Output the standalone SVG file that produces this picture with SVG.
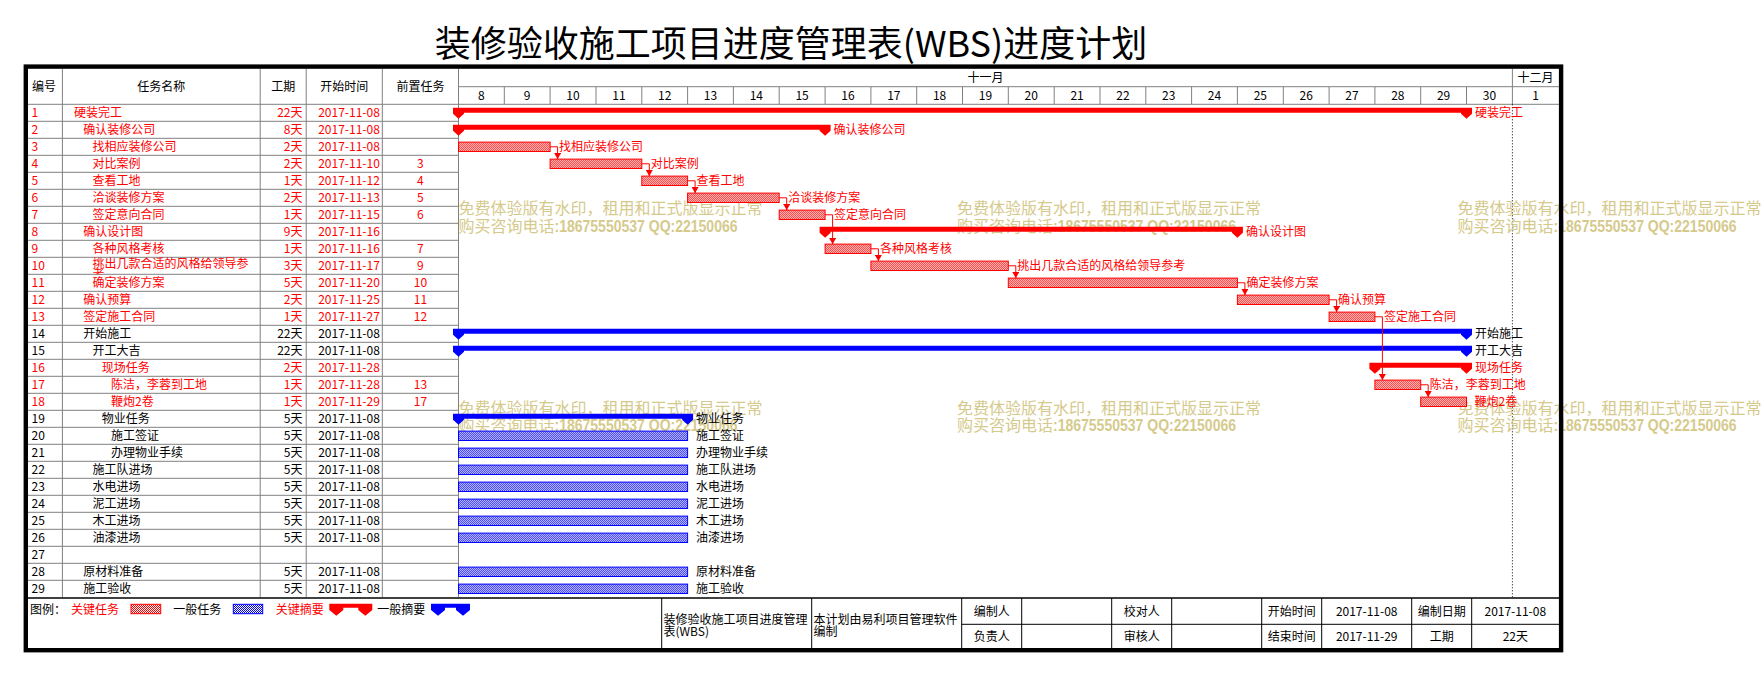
<svg xmlns="http://www.w3.org/2000/svg" width="1761" height="674" viewBox="0 0 1761 674">
<style>
text{font-family:"Noto Sans CJK SC","Noto Sans",sans-serif;font-size:12px}
.r{fill:#f00}.k{fill:#000}
.m{text-anchor:middle}.e{text-anchor:end}
.g{stroke:#808080;stroke-width:1;fill:none}
.wm{fill:#D5CA8C;font-size:16px}
.wd{fill:#D5CA8C;font-family:"Liberation Sans",sans-serif;font-size:16px;font-weight:bold}
.tr{fill:url(#hr);stroke:#f00;stroke-width:1}
.tb{fill:url(#hb);stroke:#00f;stroke-width:1}
.sr{fill:#f00}.sb{fill:#00f}
.cn{stroke:#f00;stroke-width:1;fill:none;marker-end:url(#ar)}
.bl{stroke:#000;stroke-width:1;fill:none}
</style>
<defs>
<pattern id="hr" width="2" height="2" patternUnits="userSpaceOnUse"><rect width="2" height="2" fill="#fff"/><rect width="1" height="1" fill="#f00"/><rect x="1" y="1" width="1" height="1" fill="#f00"/></pattern>
<pattern id="hb" width="2" height="2" patternUnits="userSpaceOnUse"><rect width="2" height="2" fill="#fff"/><rect width="1" height="1" fill="#00f"/><rect x="1" y="1" width="1" height="1" fill="#00f"/></pattern>
<marker id="ar" viewBox="0 0 6 7" refX="6" refY="3.5" markerWidth="6" markerHeight="7" markerUnits="userSpaceOnUse" orient="auto"><path d="M0,0 L6,3.5 L0,7 Z" fill="#f00"/></marker>
<clipPath id="c10"><rect x="62.4" y="0" width="197.8" height="17"/></clipPath>
</defs>
<rect width="1761" height="674" fill="#fff"/>

<text x="791" y="57" class="m" style="font-size:36px">装修验收施工项目进度管理表(WBS)进度计划</text>

<g id="grid">
<path class="g" d="M62.4,68.7V597.3M260.2,68.7V597.3M306.2,68.7V597.3M382.3,68.7V597.3M458.5,68.7V597.3"/>
<path class="g" d="M25.7,104.3H1559M458.5,86.7H1559M1512.4,68.7V104.3"/>
<path class="g" d="M504.3,86.7V104.3M550.1,86.7V104.3M596,86.7V104.3M641.8,86.7V104.3M687.6,86.7V104.3M733.4,86.7V104.3M779.2,86.7V104.3M825.1,86.7V104.3M870.9,86.7V104.3M916.7,86.7V104.3M962.5,86.7V104.3M1008.3,86.7V104.3M1054.2,86.7V104.3M1100,86.7V104.3M1145.8,86.7V104.3M1191.6,86.7V104.3M1237.4,86.7V104.3M1283.3,86.7V104.3M1329.1,86.7V104.3M1374.9,86.7V104.3M1420.7,86.7V104.3M1466.5,86.7V104.3"/>
<path class="g" d="M25.7,121.3H458.5M25.7,138.3H458.5M25.7,155.3H458.5M25.7,172.3H458.5M25.7,189.3H458.5M25.7,206.3H458.5M25.7,223.3H458.5M25.7,240.3H458.5M25.7,257.3H458.5M25.7,274.3H458.5M25.7,291.3H458.5M25.7,308.3H458.5M25.7,325.3H458.5M25.7,342.3H458.5M25.7,359.3H458.5M25.7,376.3H458.5M25.7,393.3H458.5M25.7,410.3H458.5M25.7,427.3H458.5M25.7,444.3H458.5M25.7,461.3H458.5M25.7,478.3H458.5M25.7,495.3H458.5M25.7,512.3H458.5M25.7,529.3H458.5M25.7,546.3H458.5M25.7,563.3H458.5M25.7,580.3H458.5"/>
<path d="M1512.4,104.3V597.3" stroke="#000" stroke-width="1" stroke-dasharray="1 2"/>
<path d="M25.7,598H1561" stroke="#000" stroke-width="1.5"/>
</g>

<g id="header">
<text x="44" y="91" class="m">编号</text>
<text x="161.3" y="91" class="m">任务名称</text>
<text x="283.2" y="91" class="m">工期</text>
<text x="344.3" y="91" class="m">开始时间</text>
<text x="420.4" y="91" class="m">前置任务</text>
<text x="985.4" y="82" class="m">十一月</text>
<text x="1535.5" y="82" class="m">十二月</text>
<text x="481.4" y="99.5" class="m">8</text><text x="527.2" y="99.5" class="m">9</text><text x="573" y="99.5" class="m">10</text><text x="618.9" y="99.5" class="m">11</text><text x="664.7" y="99.5" class="m">12</text><text x="710.5" y="99.5" class="m">13</text><text x="756.3" y="99.5" class="m">14</text><text x="802.1" y="99.5" class="m">15</text><text x="848" y="99.5" class="m">16</text><text x="893.8" y="99.5" class="m">17</text><text x="939.6" y="99.5" class="m">18</text><text x="985.4" y="99.5" class="m">19</text><text x="1031.2" y="99.5" class="m">20</text><text x="1077.1" y="99.5" class="m">21</text><text x="1122.9" y="99.5" class="m">22</text><text x="1168.7" y="99.5" class="m">23</text><text x="1214.5" y="99.5" class="m">24</text><text x="1260.3" y="99.5" class="m">25</text><text x="1306.2" y="99.5" class="m">26</text><text x="1352" y="99.5" class="m">27</text><text x="1397.8" y="99.5" class="m">28</text><text x="1443.6" y="99.5" class="m">29</text><text x="1489.4" y="99.5" class="m">30</text><text x="1535.5" y="99.5" class="m">1</text>
</g>

<g id="watermarks">
<text x="458.5" y="214.3" class="wm">免费体验版有水印，租用和正式版显示正常</text>
<text x="458.5" y="231.7" class="wm">购买咨询电话</text><text x="554.5" y="231.7" class="wd" textLength="183" lengthAdjust="spacingAndGlyphs">:18675550537 QQ:22150066</text>
<text x="957" y="214.3" class="wm">免费体验版有水印，租用和正式版显示正常</text>
<text x="957" y="231.7" class="wm">购买咨询电话</text><text x="1053" y="231.7" class="wd" textLength="183" lengthAdjust="spacingAndGlyphs">:18675550537 QQ:22150066</text>
<text x="1457.6" y="214.3" class="wm">免费体验版有水印，租用和正式版显示正常</text>
<text x="1457.6" y="231.7" class="wm">购买咨询电话</text><text x="1553.6" y="231.7" class="wd" textLength="183" lengthAdjust="spacingAndGlyphs">:18675550537 QQ:22150066</text>
<text x="458.5" y="413.5" class="wm">免费体验版有水印，租用和正式版显示正常</text>
<text x="458.5" y="431.3" class="wm">购买咨询电话</text><text x="554.5" y="431.3" class="wd" textLength="183" lengthAdjust="spacingAndGlyphs">:18675550537 QQ:22150066</text>
<text x="957" y="413.5" class="wm">免费体验版有水印，租用和正式版显示正常</text>
<text x="957" y="431.3" class="wm">购买咨询电话</text><text x="1053" y="431.3" class="wd" textLength="183" lengthAdjust="spacingAndGlyphs">:18675550537 QQ:22150066</text>
<text x="1457.6" y="413.5" class="wm">免费体验版有水印，租用和正式版显示正常</text>
<text x="1457.6" y="431.3" class="wm">购买咨询电话</text><text x="1553.6" y="431.3" class="wd" textLength="183" lengthAdjust="spacingAndGlyphs">:18675550537 QQ:22150066</text>
</g>

<g id="task-1" transform="translate(0,104.3)" class="r">
<text x="31.5" y="12.8">1</text><text x="74" y="12.8">硬装完工</text><text x="302.5" y="12.8" class="e">22天</text><text x="349" y="12.8" class="m">2017-11-08</text>
<path class="sr" d="M453,3.5H1472V9.5L1466.5,14.5L1461,9.5V8.5H464V9.5L458.5,14.5L453,9.5Z"/>
<text x="1475" y="12.8">硬装完工</text>
</g>
<g id="task-2" transform="translate(0,121.3)" class="r">
<text x="31.5" y="12.8">2</text><text x="83.3" y="12.8">确认装修公司</text><text x="302.5" y="12.8" class="e">8天</text><text x="349" y="12.8" class="m">2017-11-08</text>
<path class="sr" d="M453,3.5H830.6V9.5L825.1,14.5L819.6,9.5V8.5H464V9.5L458.5,14.5L453,9.5Z"/>
<text x="833.6" y="12.8">确认装修公司</text>
</g>
<g id="task-3" transform="translate(0,138.3)" class="r">
<text x="31.5" y="12.8">3</text><text x="92.5" y="12.8">找相应装修公司</text><text x="302.5" y="12.8" class="e">2天</text><text x="349" y="12.8" class="m">2017-11-08</text>
<rect class="tr" x="458.5" y="3.8" width="91.6" height="9.4"/>
<text x="559.1" y="12.8">找相应装修公司</text>
</g>
<g id="task-4" transform="translate(0,155.3)" class="r">
<text x="31.5" y="12.8">4</text><text x="92.5" y="12.8">对比案例</text><text x="302.5" y="12.8" class="e">2天</text><text x="349" y="12.8" class="m">2017-11-10</text><text x="420.4" y="12.8" class="m">3</text>
<rect class="tr" x="550.1" y="3.8" width="91.7" height="9.4"/>
<text x="650.8" y="12.8">对比案例</text>
</g>
<g id="task-5" transform="translate(0,172.3)" class="r">
<text x="31.5" y="12.8">5</text><text x="92.5" y="12.8">查看工地</text><text x="302.5" y="12.8" class="e">1天</text><text x="349" y="12.8" class="m">2017-11-12</text><text x="420.4" y="12.8" class="m">4</text>
<rect class="tr" x="641.8" y="3.8" width="45.8" height="9.4"/>
<text x="696.6" y="12.8">查看工地</text>
</g>
<g id="task-6" transform="translate(0,189.3)" class="r">
<text x="31.5" y="12.8">6</text><text x="92.5" y="12.8">洽谈装修方案</text><text x="302.5" y="12.8" class="e">2天</text><text x="349" y="12.8" class="m">2017-11-13</text><text x="420.4" y="12.8" class="m">5</text>
<rect class="tr" x="687.6" y="3.8" width="91.6" height="9.4"/>
<text x="788.2" y="12.8">洽谈装修方案</text>
</g>
<g id="task-7" transform="translate(0,206.3)" class="r">
<text x="31.5" y="12.8">7</text><text x="92.5" y="12.8">签定意向合同</text><text x="302.5" y="12.8" class="e">1天</text><text x="349" y="12.8" class="m">2017-11-15</text><text x="420.4" y="12.8" class="m">6</text>
<rect class="tr" x="779.2" y="3.8" width="45.9" height="9.4"/>
<text x="834.1" y="12.8">签定意向合同</text>
</g>
<g id="task-8" transform="translate(0,223.3)" class="r">
<text x="31.5" y="12.8">8</text><text x="83.3" y="12.8">确认设计图</text><text x="302.5" y="12.8" class="e">9天</text><text x="349" y="12.8" class="m">2017-11-16</text>
<path class="sr" d="M819.6,3.5H1242.9V9.5L1237.4,14.5L1231.9,9.5V8.5H830.6V9.5L825.1,14.5L819.6,9.5Z"/>
<text x="1245.9" y="12.8">确认设计图</text>
</g>
<g id="task-9" transform="translate(0,240.3)" class="r">
<text x="31.5" y="12.8">9</text><text x="92.5" y="12.8">各种风格考核</text><text x="302.5" y="12.8" class="e">1天</text><text x="349" y="12.8" class="m">2017-11-16</text><text x="420.4" y="12.8" class="m">7</text>
<rect class="tr" x="825.1" y="3.8" width="45.8" height="9.4"/>
<text x="879.9" y="12.8">各种风格考核</text>
</g>
<g id="task-10" transform="translate(0,257.3)" class="r">
<text x="31.5" y="12.8">10</text>
<g clip-path="url(#c10)"><text x="92.5" y="10.2">挑出几款合适的风格给领导参</text><text x="92.5" y="21.4">考</text></g>
<text x="302.5" y="12.8" class="e">3天</text><text x="349" y="12.8" class="m">2017-11-17</text><text x="420.4" y="12.8" class="m">9</text>
<rect class="tr" x="870.9" y="3.8" width="137.4" height="9.4"/>
<text x="1017.3" y="12.8">挑出几款合适的风格给领导参考</text>
</g>
<g id="task-11" transform="translate(0,274.3)" class="r">
<text x="31.5" y="12.8">11</text><text x="92.5" y="12.8">确定装修方案</text><text x="302.5" y="12.8" class="e">5天</text><text x="349" y="12.8" class="m">2017-11-20</text><text x="420.4" y="12.8" class="m">10</text>
<rect class="tr" x="1008.3" y="3.8" width="229.1" height="9.4"/>
<text x="1246.4" y="12.8">确定装修方案</text>
</g>
<g id="task-12" transform="translate(0,291.3)" class="r">
<text x="31.5" y="12.8">12</text><text x="83.3" y="12.8">确认预算</text><text x="302.5" y="12.8" class="e">2天</text><text x="349" y="12.8" class="m">2017-11-25</text><text x="420.4" y="12.8" class="m">11</text>
<rect class="tr" x="1237.4" y="3.8" width="91.7" height="9.4"/>
<text x="1338.1" y="12.8">确认预算</text>
</g>
<g id="task-13" transform="translate(0,308.3)" class="r">
<text x="31.5" y="12.8">13</text><text x="83.3" y="12.8">签定施工合同</text><text x="302.5" y="12.8" class="e">1天</text><text x="349" y="12.8" class="m">2017-11-27</text><text x="420.4" y="12.8" class="m">12</text>
<rect class="tr" x="1329.1" y="3.8" width="45.8" height="9.4"/>
<text x="1383.9" y="12.8">签定施工合同</text>
</g>
<g id="task-14" transform="translate(0,325.3)" class="k">
<text x="31.5" y="12.8">14</text><text x="83.3" y="12.8">开始施工</text><text x="302.5" y="12.8" class="e">22天</text><text x="349" y="12.8" class="m">2017-11-08</text>
<path class="sb" d="M453,3.5H1472V9.5L1466.5,14.5L1461,9.5V8.5H464V9.5L458.5,14.5L453,9.5Z"/>
<text x="1475" y="12.8">开始施工</text>
</g>
<g id="task-15" transform="translate(0,342.3)" class="k">
<text x="31.5" y="12.8">15</text><text x="92.5" y="12.8">开工大吉</text><text x="302.5" y="12.8" class="e">22天</text><text x="349" y="12.8" class="m">2017-11-08</text>
<path class="sb" d="M453,3.5H1472V9.5L1466.5,14.5L1461,9.5V8.5H464V9.5L458.5,14.5L453,9.5Z"/>
<text x="1475" y="12.8">开工大吉</text>
</g>
<g id="task-16" transform="translate(0,359.3)" class="r">
<text x="31.5" y="12.8">16</text><text x="101.8" y="12.8">现场任务</text><text x="302.5" y="12.8" class="e">2天</text><text x="349" y="12.8" class="m">2017-11-28</text>
<path class="sr" d="M1369.4,3.5H1472V9.5L1466.5,14.5L1461,9.5V8.5H1380.4V9.5L1374.9,14.5L1369.4,9.5Z"/>
<text x="1475" y="12.8">现场任务</text>
</g>
<g id="task-17" transform="translate(0,376.3)" class="r">
<text x="31.5" y="12.8">17</text><text x="111" y="12.8">陈洁，李蓉到工地</text><text x="302.5" y="12.8" class="e">1天</text><text x="349" y="12.8" class="m">2017-11-28</text><text x="420.4" y="12.8" class="m">13</text>
<rect class="tr" x="1374.9" y="3.8" width="45.8" height="9.4"/>
<text x="1429.7" y="12.8">陈洁，李蓉到工地</text>
</g>
<g id="task-18" transform="translate(0,393.3)" class="r">
<text x="31.5" y="12.8">18</text><text x="111" y="12.8">鞭炮2卷</text><text x="302.5" y="12.8" class="e">1天</text><text x="349" y="12.8" class="m">2017-11-29</text><text x="420.4" y="12.8" class="m">17</text>
<rect class="tr" x="1420.7" y="3.8" width="45.8" height="9.4"/>
<text x="1474.5" y="12.8">鞭炮2卷</text>
</g>
<g id="task-19" transform="translate(0,410.3)" class="k">
<text x="31.5" y="12.8">19</text><text x="101.8" y="12.8">物业任务</text><text x="302.5" y="12.8" class="e">5天</text><text x="349" y="12.8" class="m">2017-11-08</text>
<path class="sb" d="M453,3.5H693.1V9.5L687.6,14.5L682.1,9.5V8.5H464V9.5L458.5,14.5L453,9.5Z"/>
<text x="696.1" y="12.8">物业任务</text>
</g>
<g id="task-20" transform="translate(0,427.3)" class="k">
<text x="31.5" y="12.8">20</text><text x="111" y="12.8">施工签证</text><text x="302.5" y="12.8" class="e">5天</text><text x="349" y="12.8" class="m">2017-11-08</text>
<rect class="tb" x="458.5" y="3.8" width="229.1" height="9.4"/>
<text x="696.1" y="12.8">施工签证</text>
</g>
<g id="task-21" transform="translate(0,444.3)" class="k">
<text x="31.5" y="12.8">21</text><text x="111" y="12.8">办理物业手续</text><text x="302.5" y="12.8" class="e">5天</text><text x="349" y="12.8" class="m">2017-11-08</text>
<rect class="tb" x="458.5" y="3.8" width="229.1" height="9.4"/>
<text x="696.1" y="12.8">办理物业手续</text>
</g>
<g id="task-22" transform="translate(0,461.3)" class="k">
<text x="31.5" y="12.8">22</text><text x="92.5" y="12.8">施工队进场</text><text x="302.5" y="12.8" class="e">5天</text><text x="349" y="12.8" class="m">2017-11-08</text>
<rect class="tb" x="458.5" y="3.8" width="229.1" height="9.4"/>
<text x="696.1" y="12.8">施工队进场</text>
</g>
<g id="task-23" transform="translate(0,478.3)" class="k">
<text x="31.5" y="12.8">23</text><text x="92.5" y="12.8">水电进场</text><text x="302.5" y="12.8" class="e">5天</text><text x="349" y="12.8" class="m">2017-11-08</text>
<rect class="tb" x="458.5" y="3.8" width="229.1" height="9.4"/>
<text x="696.1" y="12.8">水电进场</text>
</g>
<g id="task-24" transform="translate(0,495.3)" class="k">
<text x="31.5" y="12.8">24</text><text x="92.5" y="12.8">泥工进场</text><text x="302.5" y="12.8" class="e">5天</text><text x="349" y="12.8" class="m">2017-11-08</text>
<rect class="tb" x="458.5" y="3.8" width="229.1" height="9.4"/>
<text x="696.1" y="12.8">泥工进场</text>
</g>
<g id="task-25" transform="translate(0,512.3)" class="k">
<text x="31.5" y="12.8">25</text><text x="92.5" y="12.8">木工进场</text><text x="302.5" y="12.8" class="e">5天</text><text x="349" y="12.8" class="m">2017-11-08</text>
<rect class="tb" x="458.5" y="3.8" width="229.1" height="9.4"/>
<text x="696.1" y="12.8">木工进场</text>
</g>
<g id="task-26" transform="translate(0,529.3)" class="k">
<text x="31.5" y="12.8">26</text><text x="92.5" y="12.8">油漆进场</text><text x="302.5" y="12.8" class="e">5天</text><text x="349" y="12.8" class="m">2017-11-08</text>
<rect class="tb" x="458.5" y="3.8" width="229.1" height="9.4"/>
<text x="696.1" y="12.8">油漆进场</text>
</g>
<g id="task-27" transform="translate(0,546.3)" class="k">
<text x="31.5" y="12.8">27</text>
</g>
<g id="task-28" transform="translate(0,563.3)" class="k">
<text x="31.5" y="12.8">28</text><text x="83.3" y="12.8">原材料准备</text><text x="302.5" y="12.8" class="e">5天</text><text x="349" y="12.8" class="m">2017-11-08</text>
<rect class="tb" x="458.5" y="3.8" width="229.1" height="9.4"/>
<text x="696.1" y="12.8">原材料准备</text>
</g>
<g id="task-29" transform="translate(0,580.3)" class="k">
<text x="31.5" y="12.8">29</text><text x="83.3" y="12.8">施工验收</text><text x="302.5" y="12.8" class="e">5天</text><text x="349" y="12.8" class="m">2017-11-08</text>
<rect class="tb" x="458.5" y="3.8" width="229.1" height="9.4"/>
<text x="696.1" y="12.8">施工验收</text>
</g>

<g id="connectors">
<path class="cn" d="M550.1,146.8H557.6V159.1"/>
<path class="cn" d="M641.8,163.8H649.3V176.1"/>
<path class="cn" d="M687.6,180.8H695.1V193.1"/>
<path class="cn" d="M779.2,197.8H786.7V210.1"/>
<path class="cn" d="M825.1,214.8H832.6V244.1"/>
<path class="cn" d="M870.9,248.8H878.4V261.1"/>
<path class="cn" d="M1008.3,265.8H1015.8V278.1"/>
<path class="cn" d="M1237.4,282.8H1244.9V295.1"/>
<path class="cn" d="M1329.1,299.8H1336.6V312.1"/>
<path class="cn" d="M1374.9,316.8H1382.4V380.1"/>
<path class="cn" d="M1420.7,384.8H1428.2V397.1"/>
</g>

<g id="legend">
<text x="30" y="613.5" class="k">图例：</text>
<text x="71" y="613.5" class="r">关键任务</text>
<rect class="tr" x="131" y="604.3" width="29.7" height="9.4"/>
<text x="173.3" y="613.5" class="k">一般任务</text>
<rect class="tb" x="233.3" y="604.3" width="29.4" height="9.4"/>
<text x="275.7" y="613.5" class="r">关键摘要</text>
<path class="sr" d="M329.3,603.7H372.3V610L365.3,615.7L358.3,610V607.7H343.3V610L336.3,615.7L329.3,610Z"/>
<text x="377.3" y="613.5" class="k">一般摘要</text>
<path class="sb" d="M431,603.7H470V610L463,615.7L456,610V607.7H445V610L438,615.7L431,610Z"/>
</g>

<g id="info">
<path class="bl" d="M661.7,598V648.3M811.7,598V648.3M961.7,598V648.3M1021.7,598V648.3M1111.7,598V648.3M1171.7,598V648.3M1261.7,598V648.3M1321.7,598V648.3M1411.7,598V648.3M1471.7,598V648.3M961.7,624.3H1559"/>
<text x="663.5" y="623.8">装修验收施工项目进度管理</text>
<text x="663.5" y="635.5">表(WBS)</text>
<text x="813.5" y="623.8">本计划由易利项目管理软件</text>
<text x="813.5" y="635.5">编制</text>
<text x="991.7" y="615.8" class="m">编制人</text>
<text x="991.7" y="640.8" class="m">负责人</text>
<text x="1141.7" y="615.8" class="m">校对人</text>
<text x="1141.7" y="640.8" class="m">审核人</text>
<text x="1291.7" y="615.8" class="m">开始时间</text>
<text x="1291.7" y="640.8" class="m">结束时间</text>
<text x="1366.7" y="615.8" class="m">2017-11-08</text>
<text x="1366.7" y="640.8" class="m">2017-11-29</text>
<text x="1441.7" y="615.8" class="m">编制日期</text>
<text x="1441.7" y="640.8" class="m">工期</text>
<text x="1515.3" y="615.8" class="m">2017-11-08</text>
<text x="1515.3" y="640.8" class="m">22天</text>
</g>

<rect id="frame" x="25.8" y="66.6" width="1535.3" height="583.6" fill="none" stroke="#000" stroke-width="4.4"/>
</svg>
